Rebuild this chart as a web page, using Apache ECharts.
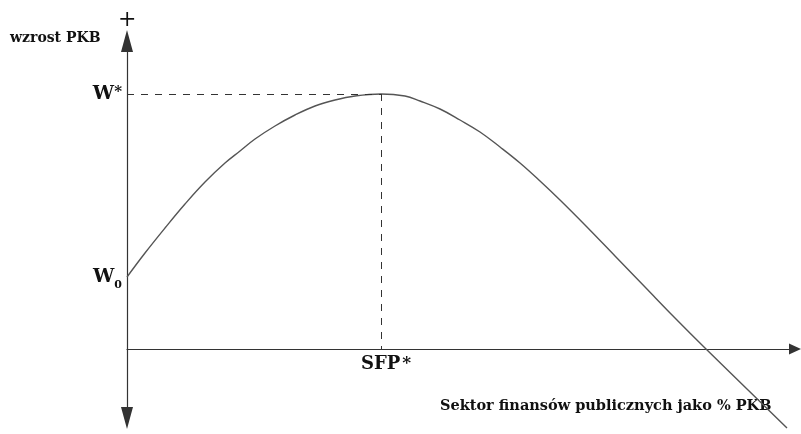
<!DOCTYPE html>
<html>
<head>
  <meta charset="utf-8">
  <title>wzrost PKB a sektor finansów publicznych</title>
  <script src="https://cdn.jsdelivr.net/npm/echarts@6/dist/echarts.min.js"></script>
  <style>
    html, body { margin: 0; padding: 0; background: #fff; }
  </style>
</head>
<body>
  <div id="main" style="width:801px;height:434px;"></div>
  <script type="text/javascript">
    // curve (x: sektor finansów publicznych, y: wzrost PKB)
    var curveX = [0, 1.8, 3.8, 5.8, 7.8, 9.8, 11.3, 12.8, 14.8, 16.8, 18.8, 20.8, 22.8, 25.4,
                  27.8, 29.3, 31.3, 33.3, 35.3, 37.3, 39.3, 41.3, 43.3, 45.8, 48.8, 51.8, 54.8, 57.8, 66];
    var curveY = [7.2, 9.6, 12.1, 14.5, 16.7, 18.6, 19.8, 21.0, 22.3, 23.4, 24.3, 24.9, 25.3, 25.5,
                  25.3, 24.8, 24.0, 22.9, 21.7, 20.2, 18.6, 16.8, 14.9, 12.4, 9.3, 6.2, 3.1, 0.1, -7.9];

    // marked points on the axes
    var w0 = 7.2;        // W0
    var wStar = 25.5;    // W*
    var sfpStar = 25.4;  // SFP*

    var serif = '"DejaVu Serif", "Liberation Serif", serif';

    var myChart = echarts.init(document.getElementById('main'));

    var points = [];
    for (var i = 0; i < curveX.length; i++) {
      points.push([curveX[i], curveY[i]]);
    }

    var option = {
      animation: false,
      backgroundColor: '#fff',
      grid: { left: 127, top: 41, width: 668, height: 377, outerBoundsMode: 'none', containLabel: false },
      xAxis: {
        type: 'value',
        min: 0,
        max: 66.8,
        splitLine: { show: false },
        axisTick: { show: false },
        axisLabel: { show: false },
        axisLine: {
          onZero: true,
          symbol: ['none', 'triangle'],
          symbolSize: [11, 12],
          lineStyle: { color: '#333', width: 1.2 }
        }
      },
      yAxis: {
        type: 'value',
        min: -6.9,
        max: 30.8,
        splitLine: { show: false },
        axisTick: { show: false },
        axisLine: {
          symbol: ['triangle', 'triangle'],
          symbolSize: [12, 22],
          lineStyle: { color: '#333', width: 1.2 }
        },
        axisLabel: {
          customValues: [w0, wStar],
          margin: 5,
          formatter: function (v) {
            return v === wStar ? '{b|W}{s|*}' : '{b|W}{sub|0}';
          },
          rich: {
            b: { fontFamily: serif, fontWeight: 'bold', fontSize: 19, color: '#111' },
            s: { fontFamily: serif, fontWeight: 'bold', fontSize: 15, color: '#111', verticalAlign: 'top' },
            sub: { fontFamily: serif, fontWeight: 'bold', fontSize: 11, color: '#111', verticalAlign: 'bottom', padding: [0, 0, -4, 0] }
          }
        }
      },
      graphic: [
        { type: 'text', left: 10, top: 31,
          style: { text: 'wzrost PKB', font: 'bold 14px ' + serif, fill: '#111' } },
        { type: 'text', left: 118, top: 9,
          style: { text: '+', font: '22px ' + serif, fill: '#111' } },
        { type: 'text', left: 120, top: 428,
          style: { text: '−', font: '20px ' + serif, fill: '#111' } },
        { type: 'text', left: 440, top: 399,
          style: { text: 'Sektor finansów publicznych jako % PKB', font: 'bold 14.5px ' + serif, fill: '#111' } }
      ],
      series: [{
        type: 'line',
        data: points,
        showSymbol: false,
        smooth: 0.4,
        clip: false,
        lineStyle: { color: '#555', width: 1.4 },
        markLine: {
          silent: true,
          symbol: 'none',
          label: { show: false },
          lineStyle: { type: [7, 7], color: '#333', width: 1 },
          data: [
            [{ coord: [0, wStar] }, { coord: [sfpStar, wStar] }],
            [
              {
                coord: [sfpStar, wStar],
                label: {
                  show: true,
                  position: 'end',
                  distance: 6,
                  offset: [5, 0],
                  formatter: '{b|SFP}{s|*}',
                  rich: {
                    b: { fontFamily: serif, fontWeight: 'bold', fontSize: 18, color: '#111' },
                    s: { fontFamily: serif, fontWeight: 'bold', fontSize: 17, color: '#111', verticalAlign: 'top', padding: [0, 0, 0, 2] }
                  }
                }
              },
              { coord: [sfpStar, 0] }
            ]
          ]
        }
      }]
    };

    myChart.setOption(option);
  </script>
</body>
</html>
